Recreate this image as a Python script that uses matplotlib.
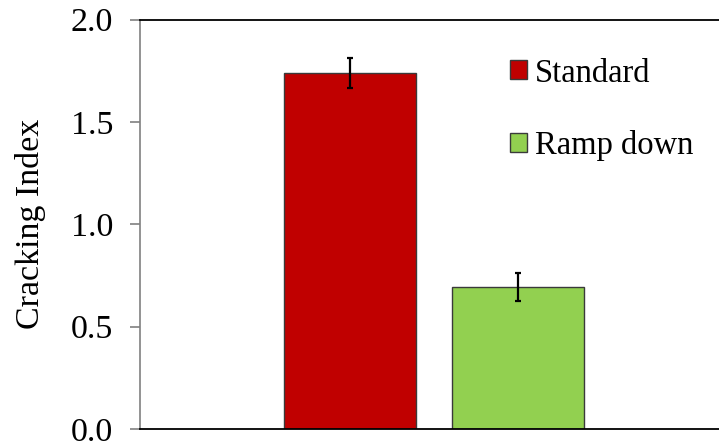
import matplotlib
matplotlib.use("Agg")
import matplotlib.pyplot as plt
from matplotlib.patches import Patch

plt.rcParams['font.family'] = ['Liberation Serif', 'DejaVu Serif']

series = ["Standard", "Ramp down"]
values = [1.74, 0.695]
errors = [0.075, 0.068]
colors = ["#C00000", "#92D050"]
yticks = [0.0, 0.5, 1.0, 1.5, 2.0]

W, H = 719, 444
fig = plt.figure(figsize=(W / 100, H / 100), dpi=100)
ax = fig.add_axes([140 / W, (H - 429) / H, 1 - 140 / W, (429 - 19.7) / H])

x = [0, 1]
ax.bar(x, values, width=0.79, color=colors, edgecolor="#3a3a3a", linewidth=1.0, zorder=2)
ax.errorbar(x, values, yerr=errors, fmt="none", ecolor="black", elinewidth=1.6,
            capsize=2.5, capthick=1.6, zorder=3)

ax.set_xlim(-1.25, 2.196)
ax.set_ylim(0, 2.0)
ax.set_yticks(yticks)
ax.set_yticklabels([f"{v:.1f}" for v in yticks], fontsize=24.5)
ax.set_xticks([])
ax.tick_params(axis="y", direction="out", length=7.2, width=1.2, color="#808080", pad=12)
ax.set_ylabel("Cracking Index", fontsize=24.5, labelpad=18)

ax.spines["right"].set_visible(False)
ax.spines["left"].set_color("#808080")
ax.spines["left"].set_linewidth(1.2)
ax.spines["top"].set_color("black")
ax.spines["top"].set_linewidth(1.3)
ax.spines["bottom"].set_color("black")
ax.spines["bottom"].set_linewidth(1.3)

handles = [Patch(facecolor=c, edgecolor="#3a3a3a", linewidth=1.0) for c in colors]
ax.legend(handles, series, loc="upper left", bbox_to_anchor=(510 / W, (H - 58) / H),
          bbox_transform=fig.transFigure, frameon=False, fontsize=23.5,
          handlelength=0.52, handleheight=0.52, handletextpad=0.25,
          labelspacing=1.28, borderpad=0, borderaxespad=0)

fig.savefig("out.png", dpi=100)
